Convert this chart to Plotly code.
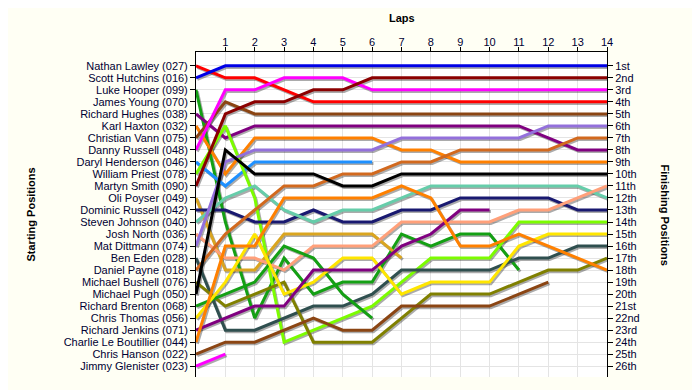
import plotly.graph_objects as go

# ---------------- data ----------------
laps = list(range(0, 15))
lap_ticks = list(range(1, 15))

drivers = ["Nathan Lawley (027)", "Scott Hutchins (016)", "Luke Hooper (099)", "James Young (070)",
           "Richard Hughes (038)", "Karl Haxton (032)", "Christian Vann (075)", "Danny Russell (048)",
           "Daryl Henderson (046)", "William Priest (078)", "Martyn Smith (090)", "Oli Poyser (049)",
           "Dominic Russell (042)", "Steven Johnson (040)", "Josh North (036)", "Mat Dittmann (074)",
           "Ben Eden (028)", "Daniel Payne (018)", "Michael Bushell (076)", "Michael Pugh (050)",
           "Richard Brenton (068)", "Chris Thomas (056)", "Richard Jenkins (071)",
           "Charlie Le Boutillier (044)", "Chris Hanson (022)", "Jimmy Glenister (023)"]

finish_labels = ["1st", "2nd", "3rd", "4th", "5th", "6th", "7th", "8th", "9th", "10th", "11th", "12th",
                 "13th", "14th", "15th", "16th", "17th", "18th", "19th", "20th", "21st", "22nd", "23rd",
                 "24th", "25th", "26th"]

# position at each lap (lap 0 = grid)
lawley    = [1, 2, 2, 3, 4, 4, 4, 4, 4, 4, 4, 4, 4, 4, 4]
hutchins  = [2, 1, 1, 1, 1, 1, 1, 1, 1, 1, 1, 1, 1, 1, 1]
hooper    = [3, 14, 22, 17, 20, 19, 19, 15, 16, 15, 15, 18]
young     = []
hughes    = [5, 7, 6, 6, 6, 6, 6, 6, 6, 6, 6, 6, 7, 8, 8]
haxton    = [6, 10, 7, 7, 7, 7, 7, 8, 8, 9, 9, 9, 9, 9, 9]
vann      = [7, 4, 5, 5, 5, 5, 5, 5, 5, 5, 5, 5, 5, 5, 5]
d_russell = [8, 3, 3, 2, 2, 2, 3, 3, 3, 3, 3, 3, 3, 3, 3]
henderson = [9, 11, 9, 9, 9, 9, 9]
priest    = [10, 6, 12, 24, 23, 22, 21, 19, 17, 17, 17, 14, 14, 14, 14]
smith     = [11, 5, 4, 4, 3, 3, 2, 2, 2, 2, 2, 2, 2, 2, 2]
poyser    = [12, 18, 18, 15, 15, 15, 15, 17]
dom_russell = [13, 13, 14, 14, 13, 14, 14, 13, 13, 12, 12, 12, 12, 13, 13]
johnson   = [14, 12, 11, 13, 14, 13, 13, 12, 11, 11, 11, 11, 11, 11, 12]
north     = [15, 17, 17, 18, 16, 16, 16, 14, 14, 14, 14, 13, 13, 12, 11]
dittmann  = [16, 9, 8, 8, 8, 8, 8, 7, 7, 7, 7, 7, 6, 6, 6]
eden      = [17, 23, 23, 22, 21, 21, 20, 18, 18, 18, 18, 17, 17, 16, 16]
payne     = [18, 15, 13, 11, 11, 10, 10, 9, 9, 8, 8, 8, 8, 7, 7]
bushell   = [19, 21, 20, 19, 24, 24, 24, 22, 20, 20, 20, 19, 18, 18, 17]
pugh      = [20, 8, 10, 10, 10, 11, 11, 10, 10, 10, 10, 10, 10, 10, 10]
brenton   = [21, 20, 19, 16, 17, 20, 22]
thomas    = [22, 19, 15, 20, 19, 17, 17, 20, 19, 19, 19, 16, 15, 15, 15]
jenkins   = [23, 22, 21, 21, 18, 18, 18, 16, 15, 13, 13]
boutillier = [24, 16, 16, 12, 12, 12, 12, 11, 12, 16, 16, 15, 16, 17, 18]
hanson    = [25, 24, 24, 23, 22, 23, 23, 21, 21, 21, 21, 20, 19]
glenister = [26, 25]

line_colors = ["#ff0000", "#0000e6", "#14a014", "#ffe600", "#800080", "#ff8000", "#8b4513", "#ff00ff",
               "#1e90ff", "#7cfc00", "#8b0000", "#daa520", "#191970", "#66cdaa", "#ffa07a", "#9370db",
               "#2f4f4f", "#d2691e", "#808000", "#000000", "#14a014", "#ffe600", "#800080", "#ff8000",
               "#8b4513", "#ff00ff"]

series = [lawley, hutchins, hooper, young, hughes, haxton, vann, d_russell, henderson, priest, smith,
          poyser, dom_russell, johnson, north, dittmann, eden, payne, bushell, pugh, brenton, thomas,
          jenkins, boutillier, hanson, glenister]

# ---------------- figure ----------------
fig = go.Figure()
font = "Liberation Sans, Arial, sans-serif"

dx, dy = 0.045, 0.13  # drop-shadow offset (in axis units)
for s in series:
    if not s:
        continue
    fig.add_trace(go.Scatter(x=[l + dx for l in laps[:len(s)]], y=[p + dy for p in s], mode="lines",
                             line=dict(color="rgba(0,0,0,0.33)", width=3), hoverinfo="skip",
                             showlegend=False))
for name, s, c in zip(drivers, series, line_colors):
    if not s:
        continue
    fig.add_trace(go.Scatter(x=laps[:len(s)], y=s, mode="lines", name=name,
                             line=dict(color=c, width=3), showlegend=False))

# invisible trace to activate right axis
fig.add_trace(go.Scatter(x=[14], y=[1], yaxis="y2", mode="markers", marker=dict(opacity=0),
                         hoverinfo="skip", showlegend=False))

yrange = [26.9, -0.15]
fig.update_layout(
    width=692, height=382,
    margin=dict(l=188, r=93, t=44, b=13, autoexpand=False),
    paper_bgcolor="#fffff4", plot_bgcolor="#ffffff",
    font=dict(family=font, size=11, color="#000033"),
    xaxis=dict(range=[0, 14], side="top", tickvals=lap_ticks, ticks="outside", ticklen=4,
               ticklabelstandoff=-3,
               tickcolor="black", showline=True, linecolor="black", linewidth=1, automargin=False,
               showgrid=True, gridcolor="#e4e4e4", gridwidth=1, zeroline=False,
               tickfont=dict(size=11, color="#000033")),
    yaxis=dict(range=yrange, tickvals=list(range(1, 27)), ticktext=drivers, ticks="outside",
               ticklen=5, tickcolor="black", showline=True, linecolor="black", linewidth=1,
               showgrid=True, gridcolor="#e4e4e4", zeroline=False, automargin=False,
               tickfont=dict(size=11, color="#000033")),
    yaxis2=dict(range=yrange, overlaying="y", side="right", tickvals=list(range(1, 27)),
                ticktext=finish_labels, ticks="outside", ticklen=5, tickcolor="black",
                showline=True, linecolor="black", linewidth=1, showgrid=False, zeroline=False,
                automargin=False, tickfont=dict(size=11, color="#000033")),
    annotations=[
        dict(text="<b>Laps</b>", xref="paper", yref="paper", x=0.5, y=1, yshift=42,
             showarrow=False, font=dict(size=11, color="black")),
        dict(text="<b>Starting Positions</b>", xref="paper", yref="paper", x=0, xshift=-174, y=0.5,
             textangle=-90, showarrow=False, font=dict(size=11, color="black")),
        dict(text="<b>Finishing Positions</b>", xref="paper", yref="paper", x=1, xshift=66, y=0.5,
             textangle=90, showarrow=False, font=dict(size=11, color="black")),
    ],
)

fig.write_html("out.html")
